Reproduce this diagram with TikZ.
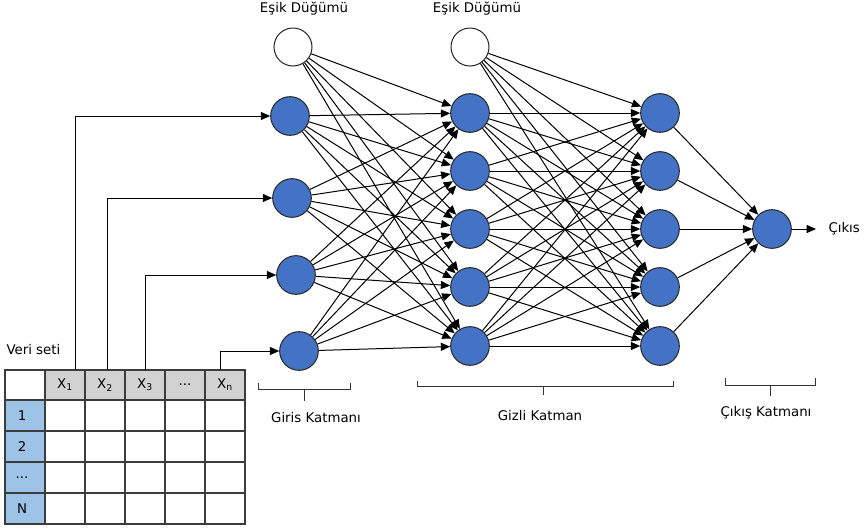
\documentclass[tikz,border=0pt]{standalone}
\usepackage{fontspec}
\setmainfont{DejaVu Sans}
\usetikzlibrary{arrows.meta}

\definecolor{nodeblue}{RGB}{68,114,196}
\definecolor{headgray}{RGB}{210,210,210}
\definecolor{rowblue}{RGB}{157,195,230}
\definecolor{gridgray}{RGB}{60,60,60}

\tikzset{every picture/.style={line width=0.75pt}}
\tikzset{
  neuron/.style={circle,draw=black!85,fill=nodeblue,minimum size=29pt,inner sep=0pt},
  biasnode/.style={circle,draw=black!85,fill=white,minimum size=28.5pt,inner sep=0pt},
  link/.style={-{Triangle[length=7pt,width=6pt]},line width=0.75pt},
  lbl/.style={inner sep=0.75pt,font=\fontsize{10}{12}\selectfont},
  headcell/.style={lbl,minimum width=30pt,minimum height=22.5pt,inner sep=0pt},
  bracket/.style={draw=black!80,line width=0.75pt}
}

\begin{document}
\begin{tikzpicture}[x=0.75pt,y=0.75pt,yscale=-1,xscale=1]
\useasboundingbox (0,0) rectangle (865,529);

%Shape: Table [id:veriseti]
\fill[headgray] (45,370) rectangle (245,400);
\fill[rowblue] (5,400) rectangle (45,524);
\draw[gridgray,line width=1.1pt] (5,370) rectangle (245,524);
\foreach \cx in {45,85,125,165,205} \draw[gridgray,line width=1.1pt] (\cx,370) -- (\cx,524);
\foreach \cy in {400,431,462,493} \draw[gridgray,line width=1.1pt] (5,\cy) -- (245,\cy);

% Text Node
\node[headcell] (x1) at (65,385) {X\textsubscript{1}};
\node[headcell] (x2) at (105,385) {X\textsubscript{2}};
\node[headcell] (x3) at (145,385) {X\textsubscript{3}};
\node[headcell] (xd) at (185,385) {...};
\node[headcell] (xn) at (225,385) {X\textsubscript{n}};
\node[lbl] (r1) at (22,415.5) {1};
\node[lbl] (r2) at (22,446.5) {2};
\node[lbl] (r3) at (22,477.5) {...};
\node[lbl] (r4) at (22,508.5) {N};
\node[lbl,anchor=west] (veri) at (5,350) {Veri seti};

%Shape: Nodes [id:layers]
\node[biasnode] (bias1) at (293,47) {};
\node[biasnode] (bias2) at (470,47) {};
\node[neuron] (in1) at (290,116) {};
\node[neuron] (in2) at (292,198) {};
\node[neuron] (in3) at (296,275) {};
\node[neuron] (in4) at (299,351) {};
\foreach \j/\yy in {1/113,2/171,3/229,4/287,5/346} {
  \node[neuron] (ha\j) at (470,\yy) {};
  \node[neuron] (hb\j) at (660,\yy) {};
}
\node[neuron] (out) at (772,229) {};

% Text Node
\node[lbl] (esik1) at (304,9) {Eşik Düğümü};
\node[lbl] (esik2) at (477,9) {Eşik Düğümü};
\node[lbl,anchor=west,inner xsep=9pt] (cikis) at (816,229) {Çıkıs};

%Lines [id:inputs]
\draw[link] ([xshift=7.5pt]x1.north) |- (in1);
\draw[link] ([xshift=1.5pt]x2.north) |- (in2);
\draw[link] (x3.north) |- (in3);
\draw[link] ([xshift=-3.75pt]xn.north) |- (in4);

%Lines [id:weights]
\foreach \j in {1,...,5} {
  \draw[link] (bias1) -- (ha\j);
  \draw[link] (bias2) -- (hb\j);
  \draw[link] (hb\j) -- (out);
  \foreach \i in {1,...,4} \draw[link] (in\i) -- (ha\j);
  \foreach \i in {1,...,5} \draw[link] (ha\i) -- (hb\j);
}
\draw[link] (out) -- (cikis);

%Shape: Brackets [id:katman]
\draw[bracket] (258,383) -- (258,389) -- (350,389) -- (350,383) (304,389) -- (304,401);
\draw[bracket] (417,381) -- (417,386) -- (673,386) -- (673,381) (543,386) -- (543,395);
\draw[bracket] (725,378) -- (725,385) -- (815,385) -- (815,378) (770,385) -- (770,396);

% Text Node
\node[lbl] (giris) at (316,418) {Giris Katmanı};
\node[lbl] (gizli) at (540,416) {Gizli Katman};
\node[lbl] (cikiskat) at (766,413) {Çıkış Katmanı};

\end{tikzpicture}
\end{document}
